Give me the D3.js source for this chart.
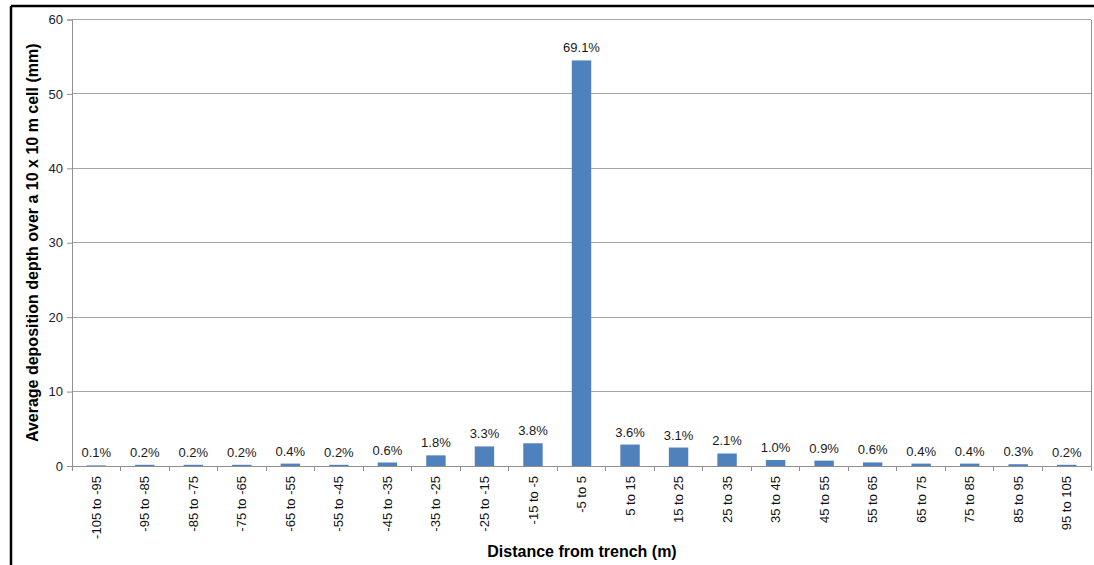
<!DOCTYPE html>
<html><head><meta charset="utf-8">
<script src="https://cdn.jsdelivr.net/npm/d3@7"></script>
<style>
html,body{margin:0;padding:0;background:#fff;}
svg{display:block;font-family:"Liberation Sans",Arial,sans-serif;}
</style></head>
<body>
<svg id="chart" width="1094" height="565"></svg>
<script>
const categories = ["-105 to -95","-95 to -85","-85 to -75","-75 to -65","-65 to -55","-55 to -45","-45 to -35","-35 to -25","-25 to -15","-15 to -5","-5 to 5","5 to 15","15 to 25","25 to 35","35 to 45","45 to 55","55 to 65","65 to 75","75 to 85","85 to 95","95 to 105"];
const depths = [0.08,0.16,0.16,0.16,0.32,0.16,0.47,1.43,2.63,3.05,54.5,2.88,2.48,1.68,0.80,0.72,0.48,0.32,0.32,0.24,0.16];
const percentLabels = ["0.1%","0.2%","0.2%","0.2%","0.4%","0.2%","0.6%","1.8%","3.3%","3.8%","69.1%","3.6%","3.1%","2.1%","1.0%","0.9%","0.6%","0.4%","0.4%","0.3%","0.2%"];
const yTicks = [0,10,20,30,40,50,60];
const yTitle = "Average deposition depth over a 10 x 10 m cell (mm)";
const xTitle = "Distance from trench (m)";

const svg = d3.select("#chart");
const L = 72, R = 1091, T = 19.5, B = 466;

// outer border
svg.append("line").attr("x1",11).attr("x2",1094).attr("y1",6).attr("y2",6).attr("stroke","#000").attr("stroke-width",2.5);
svg.append("line").attr("x1",11).attr("x2",11).attr("y1",6).attr("y2",565).attr("stroke","#000").attr("stroke-width",2.5);

const x = d3.scaleBand().domain(categories).range([L,R]).paddingInner(0.6).paddingOuter(0.3);
const xb = d3.scaleBand().domain(categories).range([L,R]);
const y = d3.scaleLinear().domain([0,60]).range([B,T]);

// gridlines
svg.append("g").selectAll("line").data(yTicks.filter(d=>d>0)).join("line")
  .attr("x1",L).attr("x2",R).attr("y1",d=>y(d)).attr("y2",d=>y(d))
  .attr("stroke","#a6a6a6").attr("stroke-width",1).attr("shape-rendering","crispEdges");
// right border of plot
svg.append("line").attr("x1",R).attr("x2",R).attr("y1",T).attr("y2",B).attr("stroke","#909090").attr("shape-rendering","crispEdges");

// bars
svg.append("g").selectAll("rect").data(depths).join("rect")
  .attr("x",(d,i)=>x(categories[i]))
  .attr("width",x.bandwidth())
  .attr("y",d=>y(d))
  .attr("height",d=>B-y(d))
  .attr("fill","#4f81bd");

// data labels
svg.append("g").selectAll("text").data(depths).join("text")
  .attr("x",(d,i)=>xb(categories[i])+xb.bandwidth()/2)
  .attr("y",d=>y(d)-8)
  .attr("text-anchor","middle")
  .attr("font-size",13).attr("fill","#1a1a1a")
  .text((d,i)=>percentLabels[i]);

// y axis
const yAxis = svg.append("g").attr("transform",`translate(${L},0)`)
  .call(d3.axisLeft(y).tickValues(yTicks).tickSize(5).tickPadding(4));
yAxis.select(".domain").attr("stroke","#909090");
yAxis.selectAll(".tick line").attr("stroke","#909090");
yAxis.selectAll(".tick text").attr("font-size",13).attr("fill","#1a1a2e").attr("font-family","Liberation Sans, Arial, sans-serif");

// x axis
const xAxis = svg.append("g").attr("transform",`translate(0,${B})`)
  .call(d3.axisBottom(xb).tickSize(0).tickPadding(0));
xAxis.select(".domain").attr("stroke","#909090");
xAxis.selectAll(".tick text")
  .attr("font-size",13).attr("fill","#111").attr("font-family","Liberation Sans, Arial, sans-serif")
  .attr("transform","rotate(-90)")
  .attr("x",-10).attr("y",0).attr("dy","0.35em")
  .attr("text-anchor","end");
// category boundary ticks
const bounds = categories.map(c=>xb(c)).concat([R]);
svg.append("g").selectAll("line").data(bounds).join("line")
  .attr("x1",d=>d).attr("x2",d=>d).attr("y1",B).attr("y2",B+5)
  .attr("stroke","#909090").attr("shape-rendering","crispEdges");

// titles
svg.append("text").attr("transform",`translate(38,${(T+B)/2}) rotate(-90)`)
  .attr("text-anchor","middle").attr("font-size",16).attr("font-weight","bold").attr("fill","#000")
  .text(yTitle);
svg.append("text").attr("x",582).attr("y",557)
  .attr("text-anchor","middle").attr("font-size",16).attr("font-weight","bold").attr("fill","#000")
  .text(xTitle);
</script>
</body></html>
